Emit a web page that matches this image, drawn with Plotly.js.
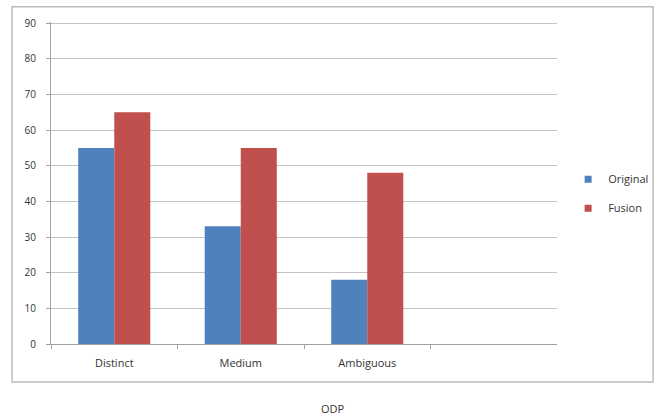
<!DOCTYPE html>
<html>
<head>
<meta charset="utf-8">
<script src="https://cdn.plot.ly/plotly-3.0.1.min.js"></script>
<style>
html,body{margin:0;padding:0;background:#fff;}
#chart{width:662px;height:418px;}
</style>
</head>
<body>
<div id="chart"></div>
<script>
const categories = ['Distinct', 'Medium', 'Ambiguous'];
const originalValues = [55, 33, 18];
const fusionValues = [65, 55, 48];
const seriesNames = ['Original', 'Fusion'];
const seriesColors = ['#4f81bd', '#c0504d'];
const yTicks = [0, 10, 20, 30, 40, 50, 60, 70, 80, 90];
const xTitle = 'ODP';

const font = '"Open Sans", "Noto Sans", sans-serif';

const traces = [
  {type: 'bar', name: seriesNames[0], x: categories, y: originalValues,
   marker: {color: seriesColors[0]}, showlegend: false},
  {type: 'bar', name: seriesNames[1], x: categories, y: fusionValues,
   marker: {color: seriesColors[1]}, showlegend: false},
  // legend entries with small square keys
  {type: 'scatter', mode: 'markers', name: seriesNames[0], x: [null], y: [null],
   marker: {symbol: 'square', size: 7, color: seriesColors[0]}, legendgroup: 'a'},
  {type: 'scatter', mode: 'markers', name: seriesNames[1], x: [null], y: [null],
   marker: {symbol: 'square', size: 7, color: seriesColors[1]}, legendgroup: 'b'}
];

const layout = {
  width: 662, height: 418,
  margin: {l: 51, r: 105, t: 22, b: 74, autoexpand: false},
  paper_bgcolor: '#fff', plot_bgcolor: '#fff',
  barmode: 'group', bargap: 0.43, bargroupgap: 0,
  font: {family: font, size: 11, color: '#333333'},
  xaxis: {
    type: 'category', range: [-0.5, 3.5],
    tickson: 'boundaries', ticks: 'outside', ticklen: 4, tickcolor: '#a0a0a0',
    showline: true, linecolor: '#a0a0a0', linewidth: 1,
    showgrid: false, zeroline: false, ticklabelstandoff: 9,
    tickfont: {size: 11, color: '#333333'}
  },
  yaxis: {
    range: [0, 90.3], tickvals: yTicks, ticktext: yTicks.map(String),
    ticks: 'outside', ticklen: 4, tickcolor: '#a0a0a0',
    showline: true, linecolor: '#a0a0a0', linewidth: 1,
    showgrid: true, gridcolor: '#c4c4c4', gridwidth: 1,
    zeroline: false, ticklabelstandoff: 8,
    tickfont: {size: 10, color: '#333333'}
  },
  legend: {
    x: 1.022, y: 0.467, xanchor: 'left', yanchor: 'middle',
    traceorder: 'grouped', tracegroupgap: 10,
    font: {size: 11, color: '#333333'}, itemwidth: 30, bgcolor: 'rgba(0,0,0,0)'
  },
  annotations: [{
    text: xTitle, xref: 'paper', yref: 'paper', x: 0.557, y: -0.199,
    xanchor: 'center', yanchor: 'middle', showarrow: false,
    font: {size: 11, color: '#333333'}
  }],
  shapes: [{
    type: 'rect', xref: 'paper', yref: 'paper',
    x0: -0.077, x1: 1.19, y0: -0.118, y1: 1.047,
    line: {color: '#bcbcbc', width: 1.5}, fillcolor: 'rgba(0,0,0,0)', layer: 'below'
  }]
};

Plotly.newPlot('chart', traces, layout, {displayModeBar: false, staticPlot: true});
</script>
</body>
</html>
